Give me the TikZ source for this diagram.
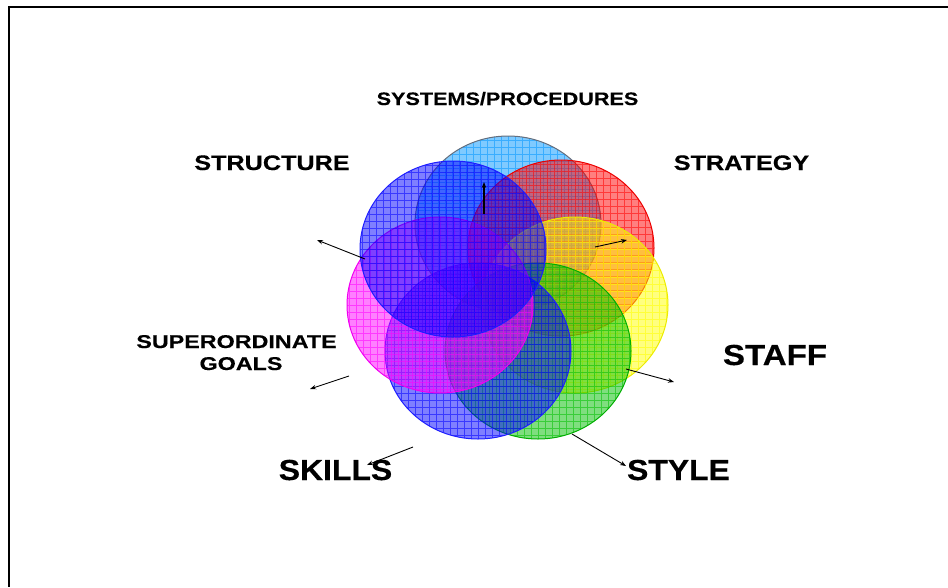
\documentclass[tikz,border=0pt]{standalone}
\usepackage{fontspec}
\usetikzlibrary{arrows.meta,shapes.geometric}
\newfontfamily\labA{Liberation Sans}[FakeStretch=1.2,FakeBold=0.4]
\newfontfamily\labC{Liberation Sans}[FakeStretch=1.26,FakeBold=0.4]
\newfontfamily\labB{Liberation Sans}[FakeStretch=1.1,FakeBold=0.4]
\newfontfamily\labD{Liberation Sans}[FakeStretch=1.14,FakeBold=0.4]
\definecolor{cLBlue}{RGB}{0,150,255}
\definecolor{oLBlue}{RGB}{100,110,125}
\definecolor{cRed}{RGB}{255,0,0}
\definecolor{oRed}{RGB}{235,0,0}
\definecolor{cYel}{RGB}{255,255,0}
\definecolor{oYel}{RGB}{235,235,0}
\definecolor{cGreen}{RGB}{0,190,0}
\definecolor{oGreen}{RGB}{0,175,0}
\definecolor{cBlue}{RGB}{0,0,255}
\definecolor{oBlue}{RGB}{30,30,255}
\definecolor{cMag}{RGB}{255,0,255}
\definecolor{oMag}{RGB}{240,0,240}
\begin{document}
\begin{tikzpicture}[x=1pt,y=1pt,
  petal/.style 2 args={ellipse, minimum width=186pt, minimum height=176pt, inner sep=0pt,
    fill=#1, fill opacity=0.5, draw=#2, draw opacity=1, line width=1pt,
    path picture={\draw[#1, opacity=0.55, line width=0.7pt, step=7pt]
      (path picture bounding box.south west) grid (path picture bounding box.north east);}},
  smalllab/.style={inner sep=0pt, anchor=base, font=\labA\bfseries\fontsize{18}{22}\selectfont},
  midlab/.style={inner sep=0pt, anchor=base, font=\labA\bfseries\fontsize{21}{25}\selectfont},
  biglab/.style={inner sep=0pt, anchor=base, font=\labB\bfseries\fontsize{29}{34}\selectfont},
  arr/.style={-{Stealth[length=6pt,width=4.5pt]}, line width=0.9pt, black}]
\useasboundingbox (0,0) rectangle (948,-587);
% frame
\coordinate (fr1) at (948,-7);
\coordinate (fr2) at (9,-7);
\coordinate (fr3) at (9,-587);
\draw[line width=2pt] (fr1) -- (fr2) -- (fr3);
% petals
\node[petal={cLBlue}{oLBlue}] (systemsP) at (508,-224) {};
\node[petal={cRed}{oRed}] (strategyP) at (561,-248) {};
\node[petal={cYel}{oYel}] (staffP) at (575,-305) {};
\node[petal={cGreen}{oGreen}] (styleP) at (538,-351) {};
\node[petal={cBlue}{oBlue}] (skillsP) at (478,-351) {};
\node[petal={cMag}{oMag}] (superP) at (440,-305) {};
\node[petal={cBlue}{oBlue}] (structureP) at (453,-249) {};
% labels
\node[smalllab] (systems) at (507.5,-105) {SYSTEMS/PROCEDURES};
\node[midlab] (structure) at (272,-170) {STRUCTURE};
\node[midlab] (strategy) at (741.5,-170) {STRATEGY};
\node[smalllab, font=\labC\bfseries\fontsize{18.5}{22}\selectfont] (super) at (236.5,-348) {SUPERORDINATE};
\node[smalllab, font=\labC\bfseries\fontsize{18.5}{22}\selectfont] (goals) at (241,-370) {GOALS};
\node[biglab, font=\labD\bfseries\fontsize{29}{34}\selectfont] (staff) at (775,-365) {STAFF};
\node[biglab] (skills) at (335.5,-480) {SKILLS};
\node[biglab] (style) at (678.5,-480) {STYLE};
% arrows
\coordinate (a1s) at (484,-214); \coordinate (a1e) at (484,-182);
\coordinate (a2s) at (595,-247); \coordinate (a2e) at (627,-240);
\coordinate (a3s) at (626,-369); \coordinate (a3e) at (674,-382);
\coordinate (a4s) at (572,-434); \coordinate (a4e) at (626,-466);
\coordinate (a5s) at (413,-447); \coordinate (a5e) at (367,-465);
\coordinate (a6s) at (349,-376); \coordinate (a6e) at (310,-389);
\coordinate (a7s) at (365,-259); \coordinate (a7e) at (317,-240);
\draw[arr, line width=1.4pt] (a1s) -- (a1e);
\draw[arr] (a2s) -- (a2e);
\draw[arr] (a3s) -- (a3e);
\draw[arr] (a4s) -- (a4e);
\draw[arr] (a5s) -- (a5e);
\draw[arr] (a6s) -- (a6e);
\draw[arr] (a7s) -- (a7e);
\end{tikzpicture}
\end{document}
